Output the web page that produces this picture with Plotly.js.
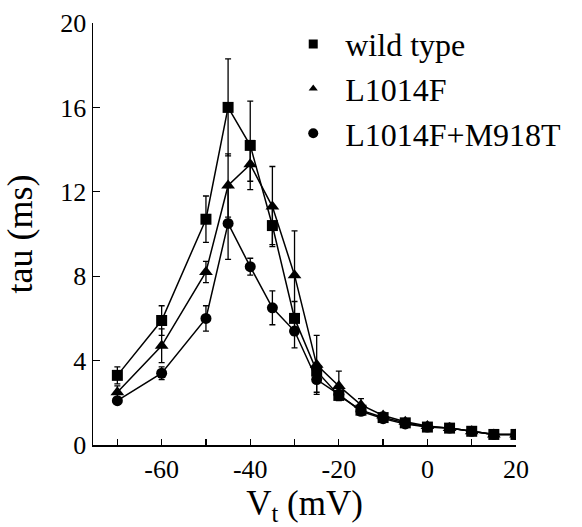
<!DOCTYPE html>
<html>
<head>
<meta charset="utf-8">
<script src="https://cdn.plot.ly/plotly-3.0.1.min.js"></script>
<style>html,body{margin:0;padding:0;background:#fff;}#chart{width:582px;height:527px;}</style>
</head>
<body>
<div id="chart"></div>
<script>
// Test potentials (mV)
const voltages = [-70, -60, -50, -45, -40, -35, -30, -25, -20, -15, -10, -5, 0, 5, 10, 15, 20];

// tau (ms) values
const wildType    = [3.3, 5.9, 10.7, 16.0, 14.2, 10.4, 6.0, 3.5, 2.35, 1.65, 1.3, 1.05, 0.85, 0.8, 0.65, 0.5, 0.5];
const wildTypeErr = [0.4, 0.7, 1.1, 2.3, 2.1, 0.9, 0.8, 0.3, 0.2, 0.15, 0.1, 0.1, 0.1, 0.05, 0.05, 0.05, 0.05];

const l1014f      = [2.5, 4.7, 8.2, 12.3, 13.3, 11.3, 8.05, 3.8, 2.8, 1.9, 1.4, 1.1, 0.9, 0.8, 0.65, 0.5, 0.5];
const l1014fErr   = [0.3, 0.8, 0.5, 1.5, 0.8, 1.9, 2.1, 1.4, 0.7, 0.3, 0.15, 0.1, 0.1, 0.05, 0.05, 0.05, 0.05];

const double      = [2.1, 3.4, 6.0, 10.5, 8.45, 6.5, 5.4, 3.1, 2.4, 1.6, 1.25, 1.0, 0.85, 0.8, 0.65, 0.5, 0.5];
const doubleErr   = [0.15, 0.3, 0.6, 1.7, 0.4, 0.8, 0.8, 0.6, 0.2, 0.15, 0.1, 0.1, 0.1, 0.05, 0.05, 0.05, 0.05];

const seriesNames = ['wild type', 'L1014F', 'L1014F+M918T'];
const xTickVals = [-60, -40, -20, 0, 20];
const xTickText = ['-60', '-40', '-20', '0', '20'];
const xMinorTickVals = [-70, -50, -30, -10, 10];
const yTickVals = [0, 4, 8, 12, 16, 20];

const serif = 'Liberation Serif, Times New Roman, serif';

function series(y, err, symbol, size) {
  return {
    x: voltages, y: y, type: 'scatter', mode: 'lines+markers',
    showlegend: false,
    line: {color: '#000', width: 1.5},
    marker: {symbol: symbol, size: size, color: '#000'},
    error_y: {type: 'data', array: err, visible: true, color: '#000', thickness: 1.3, width: 3}
  };
}
function legendItem(name, symbol, size, grp) {
  return {
    x: [null], y: [null], type: 'scatter', mode: 'markers', name: name,
    legendgroup: grp,
    marker: {symbol: symbol, size: size, color: '#000'}
  };
}

const data = [
  series(double, doubleErr, 'circle', 11),
  series(l1014f, l1014fErr, 'triangle-up', 12),
  series(wildType, wildTypeErr, 'square', 11),
  legendItem(seriesNames[0], 'square', 9, 'a'),
  legendItem(seriesNames[1], 'triangle-up', 8, 'b'),
  legendItem(seriesNames[2], 'circle', 10, 'c')
];

const layout = {
  width: 582, height: 527,
  margin: {l: 93, r: 66, t: 23, b: 82},
  paper_bgcolor: '#fff', plot_bgcolor: '#fff',
  font: {family: serif, color: '#000'},
  showlegend: true,
  legend: {
    x: 0.445, y: 1.015, xanchor: 'left', yanchor: 'top',
    font: {family: serif, size: 32, color: '#000'},
    itemwidth: 54, tracegroupgap: 0, traceorder: 'grouped',
    bgcolor: 'rgba(0,0,0,0)'
  },
  xaxis: {
    range: [-75.5, 20], tickvals: xTickVals, ticktext: xTickText,
    ticks: 'inside', ticklen: 6, tickwidth: 1.3,
    tickcolor: '#000', showline: true, linecolor: '#000', linewidth: 1.5,
    showgrid: false, zeroline: false,
    minor: {tickvals: xMinorTickVals, ticks: 'inside', ticklen: 6, tickwidth: 1.3, tickcolor: '#000', showgrid: false},
    tickfont: {family: serif, size: 26, color: '#000'},
    title: {text: 'V<sub>t</sub> (mV)', font: {family: serif, size: 35, color: '#000'}, standoff: 5}
  },
  yaxis: {
    range: [0, 20], tickvals: yTickVals, ticks: 'inside', ticklen: 7, tickwidth: 1.3,
    tickcolor: '#000', showline: true, linecolor: '#000', linewidth: 1.5,
    showgrid: false, zeroline: false,
    tickfont: {family: serif, size: 26, color: '#000'},
    title: {text: 'tau (ms)', font: {family: serif, size: 36, color: '#000'}, standoff: 17}
  }
};

Plotly.newPlot('chart', data, layout, {displayModeBar: false, staticPlot: true});
</script>
</body>
</html>
